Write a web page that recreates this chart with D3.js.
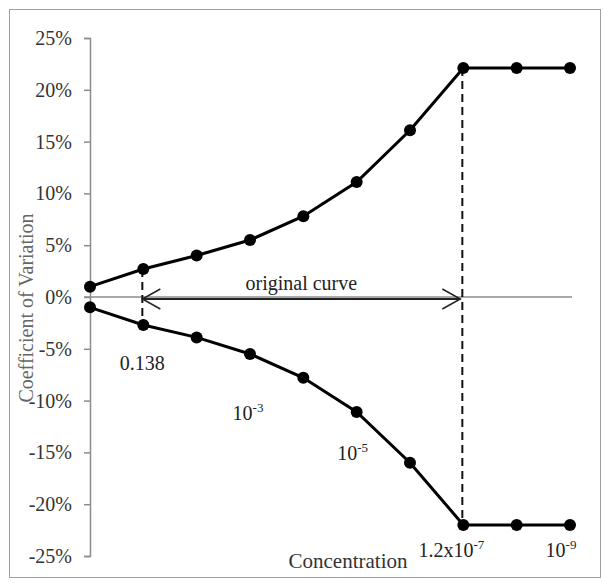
<!DOCTYPE html>
<html>
<head>
<meta charset="utf-8">
<script src="https://cdn.jsdelivr.net/npm/d3@7"></script>
<style>
  html, body { margin: 0; padding: 0; background: #fff; }
  svg { display: block; }
  svg text { font-family: 'Liberation Serif', 'Times New Roman', serif !important; }
</style>
</head>
<body>
<svg id="chart" width="603" height="583"></svg>
<script>
// ---- data ----
const categories = ["1", "0.138", "1e-2", "1e-3", "1e-4", "1e-5", "1e-6", "1.2e-7", "1e-8", "1e-9"];
const upperCV = [0.010, 0.027, 0.040, 0.055, 0.078, 0.111, 0.161, 0.221, 0.221, 0.221];
const lowerCV = [-0.010, -0.027, -0.039, -0.055, -0.078, -0.111, -0.160, -0.220, -0.220, -0.220];
const yTicks = [0.25, 0.20, 0.15, 0.10, 0.05, 0, -0.05, -0.10, -0.15, -0.20, -0.25];
// annotation labels (category, base, superscript)
const xLabels = [
  { cat: "0.138", base: "0.138", sup: "" },
  { cat: "1e-3", base: "10", sup: "-3" },
  { cat: "1e-5", base: "10", sup: "-5" },
  { cat: "1.2e-7", base: "1.2x10", sup: "-7" },
  { cat: "1e-9", base: "10", sup: "-9" }
];
const rangeStart = "0.138", rangeEnd = "1.2e-7";
const rangeLabel = "original curve";
const xTitle = "Concentration";
const yTitle = "Coefficient of Variation";

// ---- layout ----
const FONT = "'Liberation Serif', 'Times New Roman', serif";
const svg = d3.select("#chart").style("font-family", FONT);
const x = d3.scalePoint().domain(categories).range([90, 570]);
const y = d3.scaleLinear().domain([-0.25, 0.25]).range([556, 38]);

// border
svg.append("rect").attr("x", 9.5).attr("y", 9.5).attr("width", 591).attr("height", 568)
  .attr("fill", "#fff").attr("stroke", "#a0a0a0").attr("stroke-width", 1);

// y axis
const yAxis = d3.axisLeft(y).tickValues(yTicks).tickSize(6).tickPadding(12)
  .tickFormat(d => Math.round(d * 100) + "%");
const gy = svg.append("g").attr("transform", "translate(90,0)").call(yAxis);
gy.attr("font-family", null);
gy.select(".domain").attr("stroke", "#8c8c8c").attr("stroke-width", 1.5);
gy.selectAll(".tick line").attr("stroke", "#8c8c8c").attr("stroke-width", 1.5);
gy.selectAll(".tick text").attr("font-size", 20).attr("fill", "#333")
  .style("font-family", FONT);

// zero line
svg.append("line").attr("x1", 84).attr("x2", 572).attr("y1", y(0)).attr("y2", y(0))
  .attr("stroke", "#8c8c8c").attr("stroke-width", 1.5);

// dashed verticals
[[rangeStart, 1], [rangeEnd, 7]].forEach(([c, i]) => {
  svg.append("line").attr("x1", x(c) - 1).attr("x2", x(c) - 1)
    .attr("y1", y(upperCV[i])).attr("y2", y(lowerCV[i]))
    .attr("stroke", "#111").attr("stroke-width", 2).attr("stroke-dasharray", "8,5");
});

// double arrow
const ay = y(0) + 2;
const xa = x(rangeStart) - 1, xb = x(rangeEnd) - 3;
svg.append("line").attr("x1", xa).attr("x2", xb).attr("y1", ay).attr("y2", ay)
  .attr("stroke", "#222").attr("stroke-width", 2);
svg.append("path").attr("d", `M${xa + 18},${ay - 10} L${xa},${ay} L${xa + 18},${ay + 10}`)
  .attr("fill", "none").attr("stroke", "#222").attr("stroke-width", 1.5);
svg.append("path").attr("d", `M${xb - 18},${ay - 10} L${xb},${ay} L${xb - 18},${ay + 10}`)
  .attr("fill", "none").attr("stroke", "#222").attr("stroke-width", 1.5);
svg.append("text").attr("x", (xa + xb) / 2).attr("y", ay - 9).attr("text-anchor", "middle")
  .attr("font-size", 20).attr("fill", "#222").style("font-family", FONT).text(rangeLabel);

// curves
const line = d3.line().x((d, i) => x(categories[i])).y(d => y(d));
[upperCV, lowerCV].forEach(series => {
  svg.append("path").datum(series).attr("d", line)
    .attr("fill", "none").attr("stroke", "#000").attr("stroke-width", 3);
  svg.append("g").selectAll("circle").data(series).join("circle")
    .attr("cx", (d, i) => x(categories[i])).attr("cy", d => y(d)).attr("r", 6).attr("fill", "#000");
});

// annotation labels
const labelPos = { "0.138": [-1, 45], "1e-3": [-2, 66], "1e-5": [-4, 48], "1.2e-7": [-12, 32], "1e-9": [-9, 32] };
xLabels.forEach(l => {
  const i = categories.indexOf(l.cat);
  const [dx, dy] = labelPos[l.cat];
  const t = svg.append("text").attr("x", x(l.cat) + dx).attr("y", y(lowerCV[i]) + dy)
    .attr("text-anchor", "middle").attr("font-size", 20).attr("fill", "#222").style("font-family", FONT);
  t.append("tspan").text(l.base);
  if (l.sup) t.append("tspan").attr("dy", -8).attr("font-size", 13).text(l.sup);
});

// axis titles
svg.append("text").attr("x", 348).attr("y", 568).attr("text-anchor", "middle")
  .attr("font-size", 21).attr("fill", "#333").style("font-family", FONT).text(xTitle);
svg.append("text").attr("transform", "translate(33,308) rotate(-90)").attr("text-anchor", "middle")
  .attr("font-size", 20).attr("fill", "#666").style("font-family", FONT).text(yTitle);
</script>
</body>
</html>
